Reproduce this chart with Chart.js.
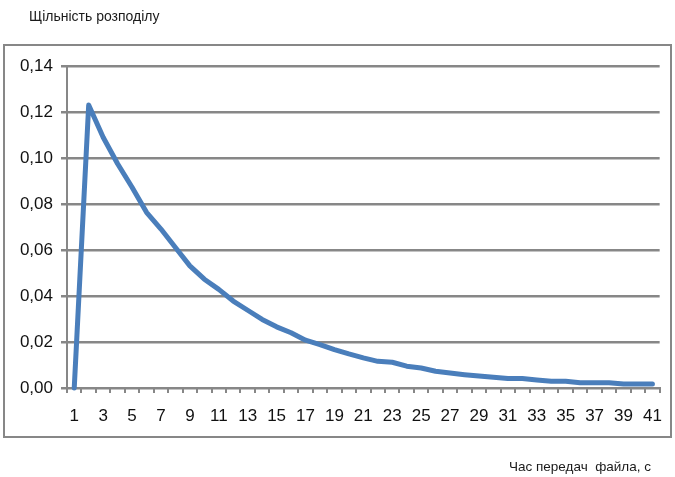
<!DOCTYPE html>
<html>
<head>
<meta charset="utf-8">
<script src="https://cdn.jsdelivr.net/npm/chart.js@4/dist/chart.umd.min.js"></script>
<style>
  html, body { margin: 0; padding: 0; background: #ffffff; }
  #wrap { width: 675px; height: 477px; position: relative; }
</style>
</head>
<body>
<div id="wrap"><canvas id="c" width="675" height="477"></canvas></div>
<script>
// Transfer time, seconds
const times = Array.from({ length: 41 }, (_, i) => String(i + 1));
// Probability density for each second
const density = [
  0.0000, 0.1230, 0.1090, 0.0975, 0.0873, 0.0764, 0.0691, 0.0611, 0.0531, 0.0473,
  0.0429, 0.0378, 0.0338, 0.0298, 0.0266, 0.0240, 0.0208, 0.0189, 0.0167, 0.0148,
  0.0131, 0.0116, 0.0112, 0.0095, 0.0087, 0.0073, 0.0065, 0.0058, 0.0052, 0.0047,
  0.0041, 0.0041, 0.0035, 0.0029, 0.0029, 0.0023, 0.0023, 0.0023, 0.0017, 0.0017,
  0.0017
];
const yTitle = 'Щільність розподілу';
const xTitle = 'Час передач  файла, с';

const GRID = '#878787';
const FONT = '"Liberation Sans", "DejaVu Sans", sans-serif';

// Outer frame and the two axis captions
const decor = {
  id: 'decor',
  beforeDraw(chart) {
    const ctx = chart.ctx;
    ctx.save();
    ctx.fillStyle = '#ffffff';
    ctx.fillRect(0, 0, chart.width, chart.height);
    ctx.strokeStyle = GRID;
    ctx.lineWidth = 2;
    ctx.strokeRect(4, 45, 667, 392);
    ctx.restore();
  },
  afterDraw(chart) {
    const ctx = chart.ctx;
    ctx.save();
    ctx.fillStyle = '#1a1a1a';
    ctx.textBaseline = 'middle';
    ctx.textAlign = 'left';
    ctx.font = '14px ' + FONT;
    ctx.fillText(yTitle, 29, 17);
    ctx.font = '13.5px ' + FONT;
    ctx.fillText(xTitle, 509, 467);
    ctx.restore();
  }
};

new Chart(document.getElementById('c'), {
  type: 'line',
  data: {
    labels: times,
    datasets: [{
      data: density,
      borderColor: '#4A7EBB',
      borderWidth: 5,
      pointRadius: 0,
      tension: 0,
      borderJoinStyle: 'round',
      borderCapStyle: 'round',
      clip: false
    }]
  },
  options: {
    responsive: false,
    animation: false,
    events: [],
    layout: { padding: { left: 0, right: 10, top: 66, bottom: 0 } },
    plugins: { legend: { display: false }, tooltip: { enabled: false } },
    scales: {
      x: {
        type: 'category',
        offset: true,
        grid: {
          offset: true,
          drawOnChartArea: false,
          drawTicks: true,
          tickLength: 5,
          color: GRID,
          lineWidth: 2
        },
        border: { display: true, color: GRID, width: 2 },
        ticks: {
          autoSkip: false,
          maxRotation: 0,
          padding: 13,
          color: '#111111',
          font: { family: FONT, size: 17 },
          callback(value, index) { return index % 2 === 0 ? times[index] : ''; }
        },
        afterFit(scale) { scale.height = 89; }
      },
      y: {
        min: 0,
        max: 0.14,
        ticks: {
          stepSize: 0.02,
          padding: 8,
          color: '#111111',
          font: { family: FONT, size: 17 },
          callback(value) { return value.toFixed(2).replace('.', ','); }
        },
        grid: {
          color: GRID,
          lineWidth: 2.5,
          drawTicks: true,
          tickLength: 6
        },
        border: { display: true, color: GRID, width: 2 },
        afterFit(scale) { scale.width = 67; }
      }
    }
  },
  plugins: [decor]
});
</script>
</body>
</html>
